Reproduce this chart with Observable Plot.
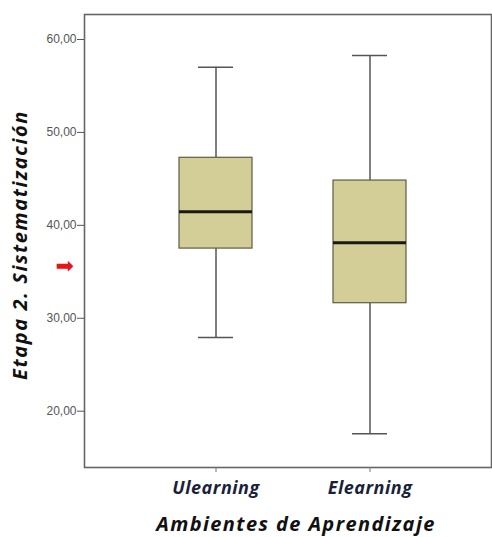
<!DOCTYPE html>
<html>
<head>
<meta charset="utf-8">
<script src="https://cdn.jsdelivr.net/npm/d3@7"></script>
<script src="https://cdn.jsdelivr.net/npm/@observablehq/plot@0.6"></script>
<style>
  html, body { margin: 0; padding: 0; background: #fff; }
  #chart svg { display: block; }
</style>
</head>
<body>
<div id="chart"></div>
<script>
// Data
const categories = ["Ulearning", "Elearning"];
const whiskerLow = [27.92, 17.56];
const q1 = [37.5, 31.62];
const median = [41.45, 38.12];
const q3 = [47.27, 44.82];
const whiskerHigh = [57.0, 58.28];
const yTicks = [20, 30, 40, 50, 60];
const yTitle = "Etapa 2. Sistematización";
const xTitle = "Ambientes de Aprendizaje";
const markerValue = [35.6]; // red arrow marker on the y axis

const boxes = categories.map((c, i) => ({
  cat: c, lo: whiskerLow[i], q1: q1[i], med: median[i], q3: q3[i], hi: whiskerHigh[i]
}));

const fmt = d => d.toFixed(2).replace(".", ",");
const labelFont = "'Open Sans', Lato, sans-serif";

const chart = Plot.plot({
  width: 492,
  height: 537,
  marginTop: 14,
  marginBottom: 70,
  marginLeft: 84,
  marginRight: 1,
  style: { background: "#fff", fontFamily: "Arial, 'Liberation Sans', sans-serif" },
  x: { type: "band", domain: categories, range: [97, 488], padding: 0.523, align: 0.5, axis: null },
  y: { domain: [13.94, 62.69], axis: null },
  marks: [
    Plot.frame({ stroke: "#666", strokeWidth: 1.6 }),
    // y axis ticks and labels
    Plot.axisY(yTicks, {
      anchor: "left", tickSize: 7, tickPadding: 1, tickFormat: fmt,
      fontSize: 12, color: "#555", stroke: "#555", label: null
    }),
    // x axis ticks and labels
    Plot.axisX(categories, {
      anchor: "bottom", tickSize: 5, tickPadding: 9, label: null,
      stroke: "#777", fill: "#1c1f3a",
      fontSize: 18, fontStyle: "italic", fontWeight: "bold", fontFamily: labelFont
    }),
    // whiskers
    Plot.ruleX(boxes, { x: "cat", y1: "lo", y2: "q1", stroke: "#555", strokeWidth: 1.5 }),
    Plot.ruleX(boxes, { x: "cat", y1: "q3", y2: "hi", stroke: "#555", strokeWidth: 1.5 }),
    Plot.tickY(boxes, { x: "cat", y: "lo", stroke: "#555", strokeWidth: 1.5, insetLeft: 19, insetRight: 19 }),
    Plot.tickY(boxes, { x: "cat", y: "hi", stroke: "#555", strokeWidth: 1.5, insetLeft: 19, insetRight: 19 }),
    // boxes
    Plot.barY(boxes, { x: "cat", y1: "q1", y2: "q3", fill: "#d3ce98", stroke: "#5e5b45", strokeWidth: 1.2 }),
    // medians
    Plot.tickY(boxes, { x: "cat", y: "med", stroke: "#1a1a10", strokeWidth: 3 }),
    // red arrow marker
    Plot.text(markerValue, {
      y: d => d, frameAnchor: "left", dx: -29, text: () => "➡",
      fill: "#e8141a", fontSize: 22, fontFamily: "'DejaVu Sans'"
    }),
    // axis titles
    Plot.text([yTitle], {
      frameAnchor: "left", dx: -64, dy: 4, rotate: -90, textAnchor: "middle", lineAnchor: "middle",
      fontSize: 20, fontStyle: "italic", fontWeight: "bold", fontFamily: labelFont, fill: "#111"
    }),
    Plot.text([xTitle], {
      frameAnchor: "bottom", dy: 57, dx: 8, textAnchor: "middle", lineAnchor: "middle",
      fontSize: 20, fontStyle: "italic", fontWeight: "bold", fontFamily: labelFont, fill: "#111"
    })
  ]
});
// widen the letter spacing of the titles to match the reference's wide lettering
d3.select(chart).selectAll("text").each(function () {
  const t = this.textContent;
  if (t === yTitle) d3.select(this).attr("letter-spacing", "1.6px");
  else if (t === xTitle) d3.select(this).attr("letter-spacing", "1.4px");
  else if (categories.includes(t)) d3.select(this).attr("letter-spacing", "0.5px");
});
document.getElementById("chart").appendChild(chart);
</script>
</body>
</html>
